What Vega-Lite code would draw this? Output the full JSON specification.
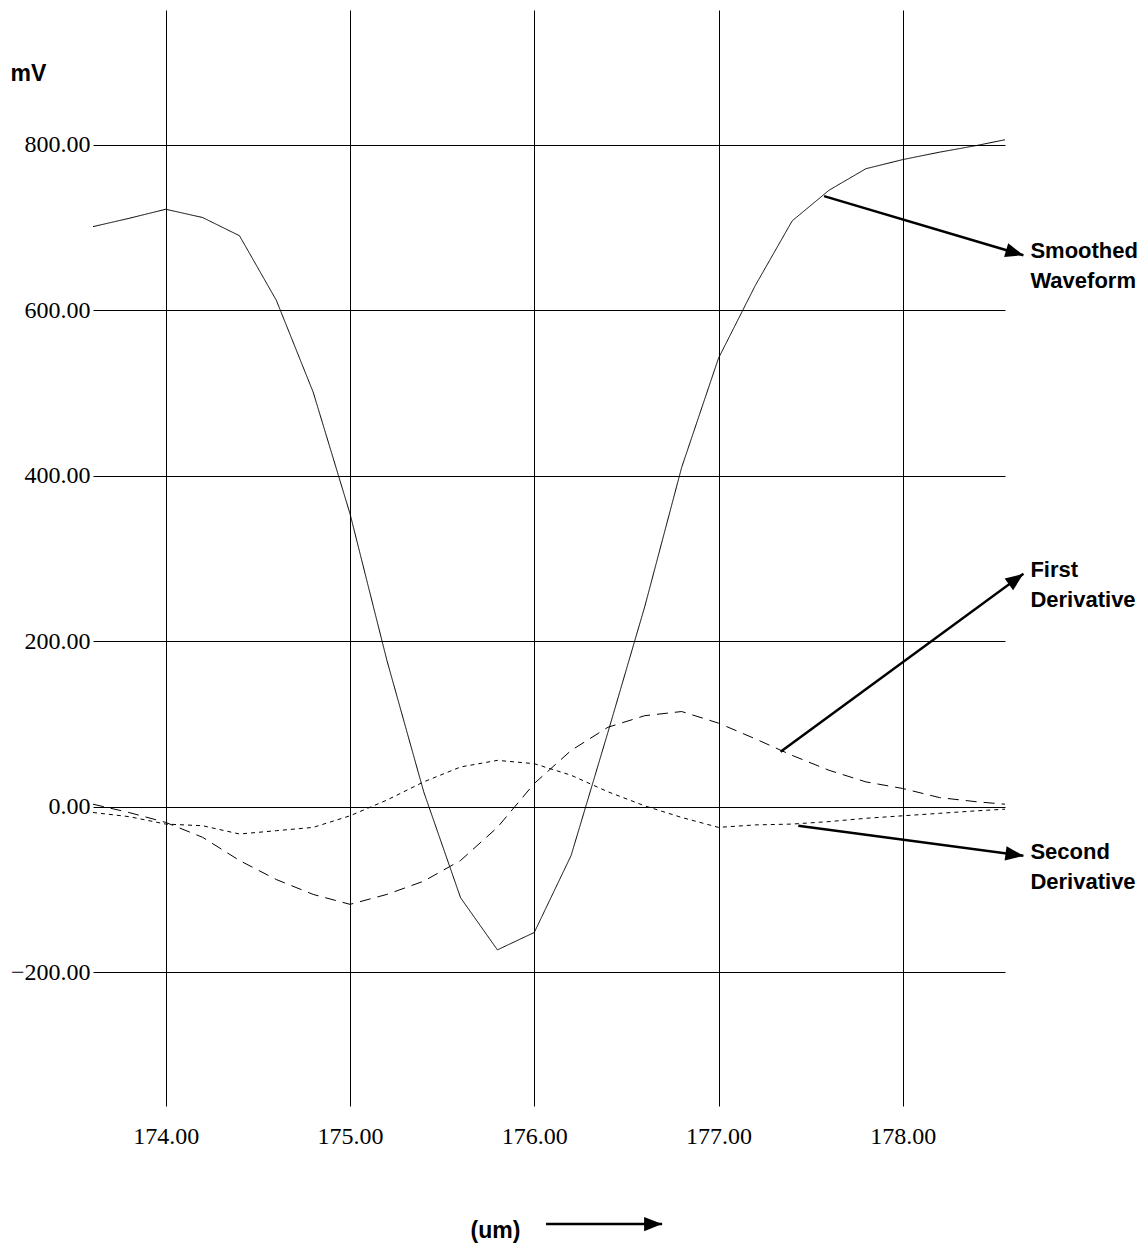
{
  "$schema": "https://vega.github.io/schema/vega-lite/v6.json",
  "width": 912,
  "height": 1096,
  "autosize": {"type": "none"},
  "padding": {"left": 93, "top": 10, "right": 141, "bottom": 143},
  "background": "white",
  "config": {"view": {"stroke": null}},
  "datasets": {
    "curves": [
      {"x": 173.605, "v": 701, "series": "Smoothed Waveform"},
      {"x": 173.8, "v": 711, "series": "Smoothed Waveform"},
      {"x": 174.0, "v": 722, "series": "Smoothed Waveform"},
      {"x": 174.2, "v": 712, "series": "Smoothed Waveform"},
      {"x": 174.4, "v": 690, "series": "Smoothed Waveform"},
      {"x": 174.6, "v": 612, "series": "Smoothed Waveform"},
      {"x": 174.8, "v": 501, "series": "Smoothed Waveform"},
      {"x": 175.0, "v": 354, "series": "Smoothed Waveform"},
      {"x": 175.2, "v": 177, "series": "Smoothed Waveform"},
      {"x": 175.4, "v": 18, "series": "Smoothed Waveform"},
      {"x": 175.6, "v": -110, "series": "Smoothed Waveform"},
      {"x": 175.8, "v": -173, "series": "Smoothed Waveform"},
      {"x": 176.0, "v": -152, "series": "Smoothed Waveform"},
      {"x": 176.2, "v": -59, "series": "Smoothed Waveform"},
      {"x": 176.4, "v": 90, "series": "Smoothed Waveform"},
      {"x": 176.6, "v": 242, "series": "Smoothed Waveform"},
      {"x": 176.8, "v": 410, "series": "Smoothed Waveform"},
      {"x": 177.0, "v": 542, "series": "Smoothed Waveform"},
      {"x": 177.2, "v": 630, "series": "Smoothed Waveform"},
      {"x": 177.4, "v": 708, "series": "Smoothed Waveform"},
      {"x": 177.6, "v": 745, "series": "Smoothed Waveform"},
      {"x": 177.8, "v": 771, "series": "Smoothed Waveform"},
      {"x": 178.0, "v": 782, "series": "Smoothed Waveform"},
      {"x": 178.2, "v": 791, "series": "Smoothed Waveform"},
      {"x": 178.4, "v": 799, "series": "Smoothed Waveform"},
      {"x": 178.555, "v": 806, "series": "Smoothed Waveform"},

      {"x": 173.605, "v": 3, "series": "First Derivative"},
      {"x": 173.8, "v": -7, "series": "First Derivative"},
      {"x": 174.0, "v": -19, "series": "First Derivative"},
      {"x": 174.2, "v": -37, "series": "First Derivative"},
      {"x": 174.4, "v": -65, "series": "First Derivative"},
      {"x": 174.6, "v": -88, "series": "First Derivative"},
      {"x": 174.8, "v": -106, "series": "First Derivative"},
      {"x": 175.0, "v": -118, "series": "First Derivative"},
      {"x": 175.2, "v": -106, "series": "First Derivative"},
      {"x": 175.4, "v": -90, "series": "First Derivative"},
      {"x": 175.6, "v": -65, "series": "First Derivative"},
      {"x": 175.8, "v": -25, "series": "First Derivative"},
      {"x": 176.0, "v": 28, "series": "First Derivative"},
      {"x": 176.2, "v": 68, "series": "First Derivative"},
      {"x": 176.4, "v": 96, "series": "First Derivative"},
      {"x": 176.6, "v": 110, "series": "First Derivative"},
      {"x": 176.8, "v": 115, "series": "First Derivative"},
      {"x": 177.0, "v": 101, "series": "First Derivative"},
      {"x": 177.2, "v": 82, "series": "First Derivative"},
      {"x": 177.4, "v": 62, "series": "First Derivative"},
      {"x": 177.6, "v": 44, "series": "First Derivative"},
      {"x": 177.8, "v": 30, "series": "First Derivative"},
      {"x": 178.0, "v": 22, "series": "First Derivative"},
      {"x": 178.2, "v": 11, "series": "First Derivative"},
      {"x": 178.4, "v": 6, "series": "First Derivative"},
      {"x": 178.555, "v": 3, "series": "First Derivative"},

      {"x": 173.605, "v": -7, "series": "Second Derivative"},
      {"x": 173.8, "v": -12, "series": "Second Derivative"},
      {"x": 174.0, "v": -21, "series": "Second Derivative"},
      {"x": 174.2, "v": -23, "series": "Second Derivative"},
      {"x": 174.4, "v": -33, "series": "Second Derivative"},
      {"x": 174.6, "v": -29, "series": "Second Derivative"},
      {"x": 174.8, "v": -25, "series": "Second Derivative"},
      {"x": 175.0, "v": -11, "series": "Second Derivative"},
      {"x": 175.2, "v": 8, "series": "Second Derivative"},
      {"x": 175.4, "v": 30, "series": "Second Derivative"},
      {"x": 175.6, "v": 48, "series": "Second Derivative"},
      {"x": 175.8, "v": 56, "series": "Second Derivative"},
      {"x": 176.0, "v": 52, "series": "Second Derivative"},
      {"x": 176.2, "v": 38, "series": "Second Derivative"},
      {"x": 176.4, "v": 18, "series": "Second Derivative"},
      {"x": 176.6, "v": 1, "series": "Second Derivative"},
      {"x": 176.8, "v": -13, "series": "Second Derivative"},
      {"x": 177.0, "v": -25, "series": "Second Derivative"},
      {"x": 177.2, "v": -22, "series": "Second Derivative"},
      {"x": 177.4, "v": -21, "series": "Second Derivative"},
      {"x": 177.6, "v": -18, "series": "Second Derivative"},
      {"x": 177.8, "v": -14, "series": "Second Derivative"},
      {"x": 178.0, "v": -11, "series": "Second Derivative"},
      {"x": 178.2, "v": -8, "series": "Second Derivative"},
      {"x": 178.4, "v": -5, "series": "Second Derivative"},
      {"x": 178.555, "v": -3, "series": "Second Derivative"}
    ],
    "arrows": [
      {"name": "Smoothed Waveform", "label": "Smoothed\nWaveform", "x": 177.573, "y": 737.9, "tx": 178.655, "ty": 666.5},
      {"name": "First Derivative", "label": "First\nDerivative", "x": 177.337, "y": 66.5, "tx": 178.655, "ty": 281.5},
      {"name": "Second Derivative", "label": "Second\nDerivative", "x": 177.433, "y": -23, "tx": 178.655, "ty": -59.3},
      {"name": "um", "label": "", "x": 176.064, "y": -504.4, "tx": 176.694, "ty": -504.4}
    ]
  },
  "layer": [
    {
      "data": {"name": "curves"},
      "mark": {"type": "line", "color": "black", "strokeWidth": 1, "clip": true},
      "encoding": {
        "x": {
          "field": "x", "type": "quantitative",
          "scale": {"domain": [173.605, 178.555], "nice": false, "zero": false},
          "axis": {
            "values": [174, 175, 176, 177, 178], "format": ".2f",
            "grid": true, "gridColor": "black", "gridOpacity": 1, "gridWidth": 1,
            "domain": false, "ticks": false,
            "labelFont": "Liberation Serif", "labelFontSize": 24, "labelColor": "black",
            "labelPadding": 18, "labelFlush": false,
            "title": "(um)", "titleFont": "Liberation Sans",
            "titleFontWeight": "bold", "titleFontSize": 23, "titleColor": "black",
            "titleAlign": "left", "titleBaseline": "alphabetic", "titleX": 377, "titleY": 131
          }
        },
        "y": {
          "field": "v", "type": "quantitative",
          "scale": {"domain": [-361.7, 962.8], "nice": false, "zero": false},
          "axis": {
            "values": [-200, 0, 200, 400, 600, 800], "format": ".2f",
            "grid": true, "gridColor": "black", "gridOpacity": 1, "gridWidth": 1,
            "domain": false, "ticks": false,
            "labelFont": "Liberation Serif", "labelFontSize": 24, "labelColor": "black",
            "labelPadding": 3, "labelFlush": false,
            "title": "mV", "titleFont": "Liberation Sans",
            "titleFontWeight": "bold", "titleFontSize": 23, "titleColor": "black",
            "titleAngle": 0, "titleAlign": "left", "titleBaseline": "alphabetic",
            "titleX": -83, "titleY": 70
          }
        },
        "strokeDash": {
          "field": "series", "type": "nominal",
          "scale": {
            "domain": ["Smoothed Waveform", "First Derivative", "Second Derivative"],
            "range": [[1, 0], [11, 7], [4, 4]]
          },
          "legend": null
        }
      }
    },
    {
      "data": {"name": "arrows"},
      "mark": {"type": "rule", "color": "black", "strokeWidth": 2.5},
      "encoding": {
        "x": {"field": "x", "type": "quantitative"},
        "y": {"field": "y", "type": "quantitative"},
        "x2": {"field": "tx"},
        "y2": {"field": "ty"}
      }
    },
    {
      "data": {"name": "arrows"},
      "transform": [{"filter": "datum.name === 'Smoothed Waveform'"}],
      "mark": {"type": "point", "shape": "M0,0L-2,-0.8L-2,0.8Z", "size": 324, "filled": true, "color": "black", "opacity": 1, "angle": 16.5},
      "encoding": {"x": {"field": "tx", "type": "quantitative"}, "y": {"field": "ty", "type": "quantitative"}}
    },
    {
      "data": {"name": "arrows"},
      "transform": [{"filter": "datum.name === 'First Derivative'"}],
      "mark": {"type": "point", "shape": "M0,0L-2,-0.8L-2,0.8Z", "size": 324, "filled": true, "color": "black", "opacity": 1, "angle": -36.1},
      "encoding": {"x": {"field": "tx", "type": "quantitative"}, "y": {"field": "ty", "type": "quantitative"}}
    },
    {
      "data": {"name": "arrows"},
      "transform": [{"filter": "datum.name === 'Second Derivative'"}],
      "mark": {"type": "point", "shape": "M0,0L-2,-0.8L-2,0.8Z", "size": 324, "filled": true, "color": "black", "opacity": 1, "angle": 7.6},
      "encoding": {"x": {"field": "tx", "type": "quantitative"}, "y": {"field": "ty", "type": "quantitative"}}
    },
    {
      "data": {"name": "arrows"},
      "transform": [{"filter": "datum.name === 'um'"}],
      "mark": {"type": "point", "shape": "M0,0L-2,-0.8L-2,0.8Z", "size": 324, "filled": true, "color": "black", "opacity": 1, "angle": 0},
      "encoding": {"x": {"field": "tx", "type": "quantitative"}, "y": {"field": "ty", "type": "quantitative"}}
    },
    {
      "data": {"name": "arrows"},
      "transform": [{"filter": "datum.name !== 'um'"}],
      "mark": {
        "type": "text", "align": "left", "baseline": "alphabetic", "dx": 7, "dy": 3,
        "lineBreak": "\n", "lineHeight": 30,
        "font": "Liberation Sans",
        "fontWeight": "bold", "fontSize": 22, "color": "black"
      },
      "encoding": {
        "x": {"field": "tx", "type": "quantitative"},
        "y": {"field": "ty", "type": "quantitative"},
        "text": {"field": "label"}
      }
    }
  ]
}
